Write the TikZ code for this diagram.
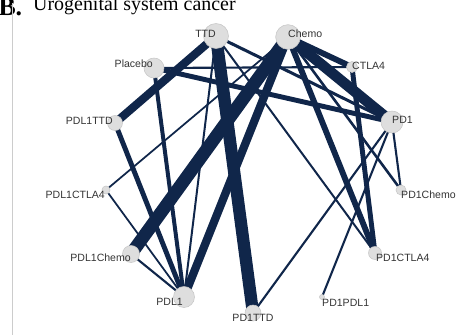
\documentclass[tikz,border=0pt]{standalone}
\usepackage{fontspec}
\setmainfont{Liberation Serif}
\setsansfont{Liberation Sans}
\usetikzlibrary{backgrounds}
\definecolor{netblue}{RGB}{16,38,74}
\definecolor{nodegray}{RGB}{222,222,222}
\definecolor{rimgray}{RGB}{200,200,200}

\begin{document}
\begin{tikzpicture}[
    x=0.03cm, y=-0.03cm,
    trt/.style={circle,draw=rimgray,fill=nodegray,inner sep=0pt,line width=0.5pt},
    lbl/.style={inner sep=0pt,font=\sffamily\fontsize{9}{10}\selectfont,text=black!80},
    cmp/.style={draw=netblue,line width=#1},
  ]
  \useasboundingbox (0,0) rectangle (467,335);

  % Title and frame
  \node[anchor=base west,inner sep=0pt,font=\bfseries\fontsize{22}{24}\selectfont] (tag) at (-1.7,15.5) {B.};
  \node[anchor=base west,inner sep=0pt,font=\fontsize{17}{19}\selectfont] (title) at (33,10.5) {Urogenital system cancer};
  \draw[gray!40,line width=0.6pt] (12,3) -- (12,335);

  % Treatments
  \node[trt,minimum size=0.75cm] (ttd) at (216,36) {};
  \node[trt,minimum size=0.74cm] (chemo) at (288,37) {};
  \node[trt,minimum size=0.6cm] (placebo) at (154,68) {};
  \node[trt,minimum size=0.33cm] (ctla) at (352,67) {};
  \node[trt,minimum size=0.66cm] (pdone) at (392,122) {};
  \node[trt,minimum size=0.45cm] (pdlttd) at (115,123) {};
  \node[trt,minimum size=0.24cm] (pdlctla) at (106,190) {};
  \node[trt,minimum size=0.3cm] (pdchemo) at (401,190) {};
  \node[trt,minimum size=0.51cm] (pdlchemo) at (131,254) {};
  \node[trt,minimum size=0.39cm] (pdctla) at (375,253) {};
  \node[trt,minimum size=0.63cm] (pdl) at (184,297) {};
  \node[trt,minimum size=0.48cm] (pdttd) at (253,313) {};
  \node[trt,minimum size=0.15cm] (pdpdl) at (322,297) {};

  % Labels
  \node[lbl,anchor=east,yshift=1.7pt] (ttdlbl) at (ttd.center) {TTD};
  \node[lbl,anchor=west,yshift=2.6pt] (chemolbl) at (chemo.center) {Chemo};
  \node[lbl,anchor=east,xshift=-0.8pt,yshift=3.4pt] (placebolbl) at (placebo.center) {Placebo};
  \node[lbl,anchor=west,yshift=1.3pt] (ctlalbl) at (ctla.center) {CTLA4};
  \node[lbl,anchor=west,yshift=1.7pt] (pdonelbl) at (pdone.center) {PD1};
  \node[lbl,anchor=east,xshift=-1.7pt,yshift=1.7pt] (pdlttdlbl) at (pdlttd.center) {PDL1TTD};
  \node[lbl,anchor=east,xshift=-0.8pt,yshift=-3.8pt] (pdlctlalbl) at (pdlctla.center) {PDL1CTLA4};
  \node[lbl,anchor=west,yshift=-3.8pt] (pdchemolbl) at (pdchemo.center) {PD1Chemo};
  \node[lbl,anchor=east,yshift=-3.4pt] (pdlchemolbl) at (pdlchemo.center) {PDL1Chemo};
  \node[lbl,anchor=west,xshift=0.8pt,yshift=-4.3pt] (pdctlalbl) at (pdctla.center) {PD1CTLA4};
  \node[lbl,anchor=east,xshift=-0.8pt,yshift=-4.3pt] (pdllbl) at (pdl.center) {PDL1};
  \node[lbl,yshift=-4.3pt] (pdttdlbl) at (pdttd.center) {PD1TTD};
  \node[lbl,anchor=west,yshift=-5.1pt] (pdpdllbl) at (pdpdl.center) {PD1PDL1};

  % Comparisons
  \begin{scope}[on background layer]
    \draw[cmp=7pt] (ttd.center) -- (pdlttd.center);
    \draw[cmp=10.5pt] (ttd.center) -- (pdttd.center);
    \draw[cmp=1.7pt] (ttd.center) -- (pdl.center);
    \draw[cmp=2.6pt] (ttd.center) -- (pdone.center);
    \draw[cmp=1.7pt] (ttd.center) -- (pdctla.center);
    \draw[cmp=3.4pt] (placebo.center) -- (pdl.center);
    \draw[cmp=1.8pt] (placebo.center) -- (ctla.center);
    \draw[cmp=4.2pt] (placebo.center) -- (pdone.center);
    \draw[cmp=4.2pt] (pdlttd.center) -- (pdl.center);
    \draw[cmp=1.5pt] (pdlctla.center) -- (chemo.center);
    \draw[cmp=1.5pt] (pdlctla.center) -- (pdl.center);
    \draw[cmp=11pt] (pdlchemo.center) -- (chemo.center);
    \draw[cmp=1.8pt] (pdlchemo.center) -- (pdl.center);
    \draw[cmp=7pt] (chemo.center) -- (pdl.center);
    \draw[cmp=9pt] (chemo.center) -- (pdone.center);
    \draw[cmp=5pt] (chemo.center) -- (ctla.center);
    \draw[cmp=5pt] (chemo.center) -- (pdctla.center);
    \draw[cmp=2.2pt] (chemo.center) -- (pdchemo.center);
    \draw[cmp=4.2pt] (ctla.center) -- (pdctla.center);
    \draw[cmp=1.8pt] (pdone.center) -- (pdchemo.center);
    \draw[cmp=1.8pt] (pdone.center) -- (pdttd.center);
    \draw[cmp=1.8pt] (pdone.center) -- (pdpdl.center);
  \end{scope}
\end{tikzpicture}
\end{document}
